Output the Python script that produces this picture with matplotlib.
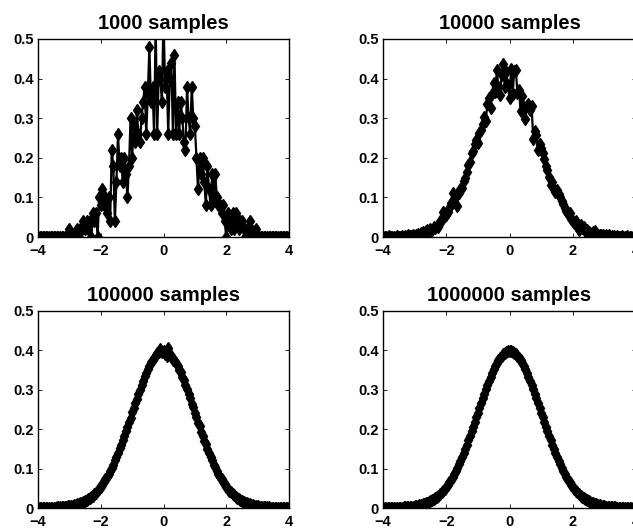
import numpy as np
import matplotlib
matplotlib.use('Agg')
import matplotlib.pyplot as plt

plt.rcParams['font.family'] = ['Liberation Sans', 'DejaVu Sans']
plt.rcParams['font.weight'] = 'bold'

# bin centres, -4 .. 4 step 0.05
bin_centers = np.linspace(-4, 4, 161)

titles = ['1000 samples', '10000 samples', '100000 samples', '1000000 samples']

pdf_1000 = [
    0, 0, 0, 0, 0, 0, 0, 0, 0, 0,
    0, 0, 0, 0, 0, 0, 0, 0, 0, 0,
    0.02, 0, 0, 0, 0, 0.02, 0, 0.02, 0.02, 0.04,
    0.02, 0.04, 0.02, 0.04, 0, 0.06, 0.04, 0.06, 0, 0.10,
    0.08, 0.12, 0.08, 0.10, 0.06, 0.10, 0.04, 0.22, 0.18, 0.04,
    0.14, 0.26, 0.18, 0.20, 0.14, 0.20, 0.16, 0.10, 0.18, 0.30,
    0.20, 0.28, 0.24, 0.32, 0.26, 0.24, 0.30, 0.34, 0.38, 0.26,
    0.36, 0.48, 0.34, 0.38, 0.26, 0.54, 0.26, 0.42, 0.40, 0.34,
    0.56, 0.38, 0.42, 0.26, 0.40, 0.44, 0.26, 0.46, 0.26, 0.34,
    0.26, 0.34, 0.30, 0.24, 0.22, 0.38, 0.30, 0.26, 0.38, 0.30,
    0.28, 0.20, 0.12, 0.20, 0.16, 0.20, 0.14, 0.08, 0.18, 0.12,
    0.08, 0.16, 0.10, 0.16, 0.10, 0.08, 0.08, 0.06, 0.08, 0.04,
    0, 0.06, 0.04, 0.02, 0.06, 0.02, 0.06, 0.04, 0.02, 0.04,
    0.04, 0.02, 0, 0.02, 0, 0.04, 0.02, 0, 0, 0.02,
    0, 0, 0, 0, 0, 0, 0, 0, 0, 0,
    0, 0, 0, 0, 0, 0, 0, 0, 0, 0,
    0,
]

pdf_10000 = [
    0.000, 0.000, 0.000, 0.000, 0.002, 0.000, 0.000, 0.000, 0.000, 0.002,
    0.000, 0.000, 0.002, 0.000, 0.002, 0.000, 0.004, 0.002, 0.002, 0.004,
    0.002, 0.006, 0.008, 0.004, 0.010, 0.012, 0.008, 0.014, 0.018, 0.012,
    0.020, 0.018, 0.024, 0.022, 0.028, 0.026, 0.040, 0.044, 0.062, 0.052,
    0.056, 0.064, 0.074, 0.086, 0.110, 0.096, 0.104, 0.078, 0.112, 0.120,
    0.124, 0.142, 0.150, 0.164, 0.182, 0.190, 0.212, 0.216, 0.234, 0.246,
    0.238, 0.262, 0.270, 0.286, 0.302, 0.294, 0.336, 0.352, 0.326, 0.362,
    0.390, 0.366, 0.422, 0.378, 0.358, 0.408, 0.436, 0.380, 0.416, 0.384,
    0.350, 0.424, 0.362, 0.420, 0.422, 0.364, 0.372, 0.318, 0.356, 0.328,
    0.298, 0.332, 0.336, 0.320, 0.330, 0.248, 0.268, 0.258, 0.220, 0.236,
    0.224, 0.212, 0.196, 0.180, 0.170, 0.152, 0.132, 0.140, 0.122, 0.114,
    0.118, 0.108, 0.102, 0.090, 0.084, 0.072, 0.066, 0.058, 0.060, 0.046,
    0.040, 0.036, 0.040, 0.028, 0.018, 0.030, 0.022, 0.024, 0.016, 0.018,
    0.012, 0.010, 0.008, 0.012, 0.016, 0.008, 0.006, 0.004, 0.006, 0.004,
    0.002, 0.006, 0.002, 0.004, 0.000, 0.002, 0.002, 0.000, 0.002, 0.000,
    0.000, 0.002, 0.000, 0.000, 0.002, 0.000, 0.000, 0.000, 0.000, 0.000,
    0.000,
]

pdf_100000 = [
    0.0002, 0.0000, 0.0002, 0.0002, 0.0004, 0.0004, 0.0004, 0.0006, 0.0006, 0.0008,
    0.0010, 0.0010, 0.0014, 0.0016, 0.0018, 0.0020, 0.0026, 0.0028, 0.0032, 0.0040,
    0.0046, 0.0050, 0.0062, 0.0070, 0.0078, 0.0094, 0.0102, 0.0120, 0.0138, 0.0150,
    0.0178, 0.0196, 0.0228, 0.0250, 0.0290, 0.0312, 0.0358, 0.0390, 0.0446, 0.0482,
    0.0538, 0.0604, 0.0650, 0.0728, 0.0784, 0.0870, 0.0946, 0.1016, 0.1100, 0.1212,
    0.1290, 0.1388, 0.1512, 0.1590, 0.1726, 0.1816, 0.1950, 0.2048, 0.2186, 0.2284,
    0.2432, 0.2528, 0.2674, 0.2770, 0.2902, 0.3006, 0.3130, 0.3216, 0.3346, 0.3418,
    0.3534, 0.3592, 0.3700, 0.3762, 0.3818, 0.3880, 0.3924, 0.3960, 0.4048, 0.3962,
    0.3990, 0.3902, 0.3860, 0.4058, 0.3900, 0.3852, 0.3744, 0.3746, 0.3672, 0.3612,
    0.3508, 0.3440, 0.3318, 0.3240, 0.3110, 0.3020, 0.2884, 0.2790, 0.2650, 0.2552,
    0.2408, 0.2310, 0.2168, 0.2070, 0.1930, 0.1838, 0.1702, 0.1614, 0.1486, 0.1404,
    0.1284, 0.1210, 0.1098, 0.1030, 0.0932, 0.0870, 0.0782, 0.0726, 0.0650, 0.0600,
    0.0534, 0.0492, 0.0436, 0.0398, 0.0352, 0.0320, 0.0280, 0.0254, 0.0220, 0.0200,
    0.0172, 0.0156, 0.0134, 0.0120, 0.0102, 0.0092, 0.0078, 0.0070, 0.0058, 0.0052,
    0.0042, 0.0038, 0.0032, 0.0028, 0.0022, 0.0020, 0.0016, 0.0016, 0.0012, 0.0010,
    0.0008, 0.0008, 0.0006, 0.0004, 0.0004, 0.0004, 0.0002, 0.0002, 0.0002, 0.0002,
    0.0000,
]

pdf_1000000 = [
    0.0001, 0.0002, 0.0002, 0.0002, 0.0003, 0.0004, 0.0004, 0.0005, 0.0006, 0.0007,
    0.0009, 0.0010, 0.0012, 0.0015, 0.0017, 0.0020, 0.0024, 0.0028, 0.0033, 0.0038,
    0.0044, 0.0051, 0.0060, 0.0069, 0.0079, 0.0091, 0.0104, 0.0119, 0.0136, 0.0154,
    0.0175, 0.0198, 0.0224, 0.0252, 0.0283, 0.0317, 0.0355, 0.0396, 0.0440, 0.0488,
    0.0540, 0.0596, 0.0656, 0.0721, 0.0790, 0.0863, 0.0940, 0.1023, 0.1109, 0.1200,
    0.1295, 0.1394, 0.1497, 0.1604, 0.1714, 0.1826, 0.1942, 0.2059, 0.2179, 0.2299,
    0.2420, 0.2541, 0.2661, 0.2780, 0.2897, 0.3011, 0.3123, 0.3230, 0.3332, 0.3429,
    0.3521, 0.3605, 0.3683, 0.3752, 0.3814, 0.3867, 0.3910, 0.3945, 0.3970, 0.3984,
    0.3989, 0.3984, 0.3970, 0.3945, 0.3910, 0.3867, 0.3814, 0.3752, 0.3683, 0.3605,
    0.3521, 0.3429, 0.3332, 0.3230, 0.3123, 0.3011, 0.2897, 0.2780, 0.2661, 0.2541,
    0.2420, 0.2299, 0.2179, 0.2059, 0.1942, 0.1826, 0.1714, 0.1604, 0.1497, 0.1394,
    0.1295, 0.1200, 0.1109, 0.1023, 0.0940, 0.0863, 0.0790, 0.0721, 0.0656, 0.0596,
    0.0540, 0.0488, 0.0440, 0.0396, 0.0355, 0.0317, 0.0283, 0.0252, 0.0224, 0.0198,
    0.0175, 0.0154, 0.0136, 0.0119, 0.0104, 0.0091, 0.0079, 0.0069, 0.0060, 0.0051,
    0.0044, 0.0038, 0.0033, 0.0028, 0.0024, 0.0020, 0.0017, 0.0015, 0.0012, 0.0010,
    0.0009, 0.0007, 0.0006, 0.0005, 0.0004, 0.0004, 0.0003, 0.0002, 0.0002, 0.0002,
    0.0001,
]

series = [pdf_1000, pdf_10000, pdf_100000, pdf_1000000]

xticks = [-4, -2, 0, 2, 4]
xticklabels = ['\u22124', '\u22122', '0', '2', '4']
yticks = [0, 0.1, 0.2, 0.3, 0.4, 0.5]
yticklabels = ['0', '0.1', '0.2', '0.3', '0.4', '0.5']

W, H = 633, 529
fig = plt.figure(figsize=(W / 100, H / 100), dpi=100)

# axes boxes in pixels: left, top, right, bottom
boxes = [
    (38, 39, 289, 237),
    (383, 39, 636, 237),
    (38, 311, 289, 508),
    (383, 311, 636, 508),
]

for box, title, vals in zip(boxes, titles, series):
    l, t, r, b = box
    ax = fig.add_axes([l / W, 1 - b / H, (r - l) / W, (b - t) / H])
    ax.plot(bin_centers, vals, color='black', lw=1.6, marker='d',
            ms=6.5, mfc='black', mec='black', clip_on=True)
    ax.set_xlim(-4, 4)
    ax.set_ylim(0, 0.5)
    ax.set_xticks(xticks)
    ax.set_xticklabels(xticklabels)
    ax.set_yticks(yticks)
    ax.set_yticklabels(yticklabels)
    ax.tick_params(direction='in', length=3, width=0.6, top=True, right=True,
                   labelsize=10.5, pad=3)
    ax.tick_params(axis='x', pad=5)
    for lab in ax.get_xticklabels() + ax.get_yticklabels():
        lab.set_fontweight('bold')
    for sp in ax.spines.values():
        sp.set_linewidth(1.0)
    ax.set_title(title, fontsize=14.5, fontweight='bold', pad=7)

fig.savefig('out.png', dpi=100)
